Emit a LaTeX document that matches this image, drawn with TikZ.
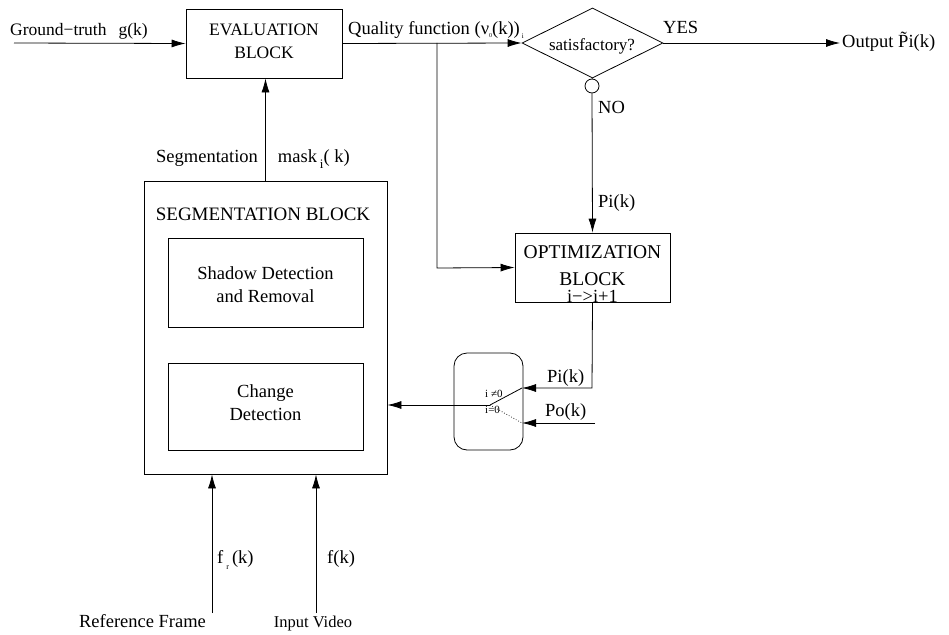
\documentclass[tikz,border=0pt]{standalone}
\usepackage{fontspec}
\setmainfont{Liberation Serif}
\usetikzlibrary{arrows.meta,shapes.geometric}
\begin{document}
\begin{tikzpicture}[x=1pt,y=-1pt,
  every node/.style={font=\fontsize{18.5}{22}\selectfont, inner sep=0pt},
  box/.style={draw, line width=0.8pt, rectangle},
  conn/.style={line width=0.8pt, -{Latex[length=14pt,width=8pt]}},
  plain/.style={line width=0.8pt},
  lbl/.style={anchor=base west},
  clbl/.style={anchor=base},
  small/.style={font=\fontsize{11}{12}\selectfont}]
\useasboundingbox (0,0) rectangle (949,634);
% blocks
\node[box, minimum width=156, minimum height=69] (eval) at (264,43.5) {};
\node[clbl, font=\fontsize{17.5}{21}\selectfont] (evalA) at (264,36) {EVALUATION};
\node[clbl, font=\fontsize{17.5}{21}\selectfont] (evalB) at (264,59) {BLOCK};
\node[draw, line width=0.8pt, diamond, minimum width=141, minimum height=70] (sat) at (592.5,43) {};
\node[anchor=base, font=\fontsize{17}{20}\selectfont] (satT) at (592,50) {satisfactory?};
\node[draw, line width=0.8pt, circle, minimum size=14] (circ) at (592,86) {};
\node[box, minimum width=155, minimum height=69] (opt) at (592.5,267.5) {};
\node[clbl, font=\fontsize{19.5}{23}\selectfont] (optA) at (592.5,258) {OPTIMIZATION};
\node[clbl, font=\fontsize{19.5}{23}\selectfont] (optB) at (592.5,285) {BLOCK};
\node[clbl] (optC) at (592.5,302) {i−>i+1};
\node[draw, line width=0.8pt, rounded corners=13, minimum width=69, minimum height=97] (sw) at (488.5,401.5) {};
\node[box, minimum width=243, minimum height=293] (seg) at (265.5,327.5) {};
\node[clbl, font=\fontsize{19}{23}\selectfont] (segT) at (263,220) {SEGMENTATION BLOCK};
\node[box, minimum width=195, minimum height=89] (shadow) at (265.5,282.5) {};
\node[clbl] (shA) at (265.5,279) {Shadow Detection};
\node[clbl] (shB) at (265.5,302) {and Removal};
\node[box, minimum width=195, minimum height=87] (change) at (265.5,406.5) {};
\node[clbl] (chA) at (265.5,397) {Change};
\node[clbl] (chB) at (265.5,420) {Detection};
% coordinates
\coordinate (gt) at (14,43);
\coordinate (out) at (840,43);
\coordinate (jq) at (437,43);
\coordinate (jo) at (437,268);
\coordinate (oc) at (592,388);
\coordinate (pin) at (522,388);
\coordinate (poin) at (522,423);
\coordinate (pos) at (595,423);
\coordinate (piv) at (490,405);
\coordinate (frs) at (212,613);
\coordinate (fvs) at (316,613);
% connectors
\draw[conn] (gt) -- (eval.west);
\draw[conn] (eval.east) -- (sat.west);
\draw[conn] (sat.east) -- (out);
\draw[plain] (sat.south) -- (circ.north);
\draw[conn] (circ.south) -- (opt.north);
\draw[conn] (jq) -- (jo) -- (opt.west);
\draw[conn] (opt.south) -- (oc) -- (pin);
\draw[conn] (pos) -- (poin);
\draw[plain] (pin) -- (piv);
\draw[conn] (piv) -- (seg.east |- piv);
\draw[line width=0.7pt, dotted] (piv) -- (poin);
\draw[conn] (seg.north) -- (seg.north |- eval.south);
\draw[conn] (frs) -- (frs |- seg.south);
\draw[conn] (fvs) -- (fvs |- seg.south);
% labels
\node[lbl, font=\fontsize{17.5}{21}\selectfont] (lgt) at (10,36) {Ground−truth\hspace{12pt}g(k)};
\node[lbl] (lq) at (348,35) {Quality function (ν\raisebox{-2pt}{\fontsize{6}{7}\selectfont 0}(k))\hspace{2pt}\raisebox{-3pt}{\fontsize{7}{8}\selectfont i}};
\node[lbl] (lyes) at (663,34) {YES};
\node[lbl] (lout) at (842,48) {Output \~{P}i(k)};
\node[lbl] (lno) at (598,113) {NO};
\node[lbl] (lpi1) at (598,207) {Pi(k)};
\node[lbl] (lpi2) at (547,382) {Pi(k)};
\node[lbl] (lpo) at (545,416) {Po(k)};
\node[lbl, small] (lne) at (485,397) {i ≠0};
\node[lbl, small] (leq) at (485,413) {i=0};
\node[lbl] (lsegm) at (156,162) {Segmentation\hspace{20pt}mask\hspace{3pt}\raisebox{-6pt}{\fontsize{13}{14}\selectfont i}( k)};
\node[lbl] (lfr) at (217,563) {f\hspace{3pt}\raisebox{-6pt}{\fontsize{8}{9}\selectfont r}\hspace{3pt}(k)};
\node[lbl] (lfv) at (327,563) {f(k)};
\node[anchor=base] (lref) at (142.5,627) {Reference Frame};
\node[anchor=base, font=\fontsize{16.5}{20}\selectfont] (linp) at (313,627) {Input Video};
\end{tikzpicture}
\end{document}
